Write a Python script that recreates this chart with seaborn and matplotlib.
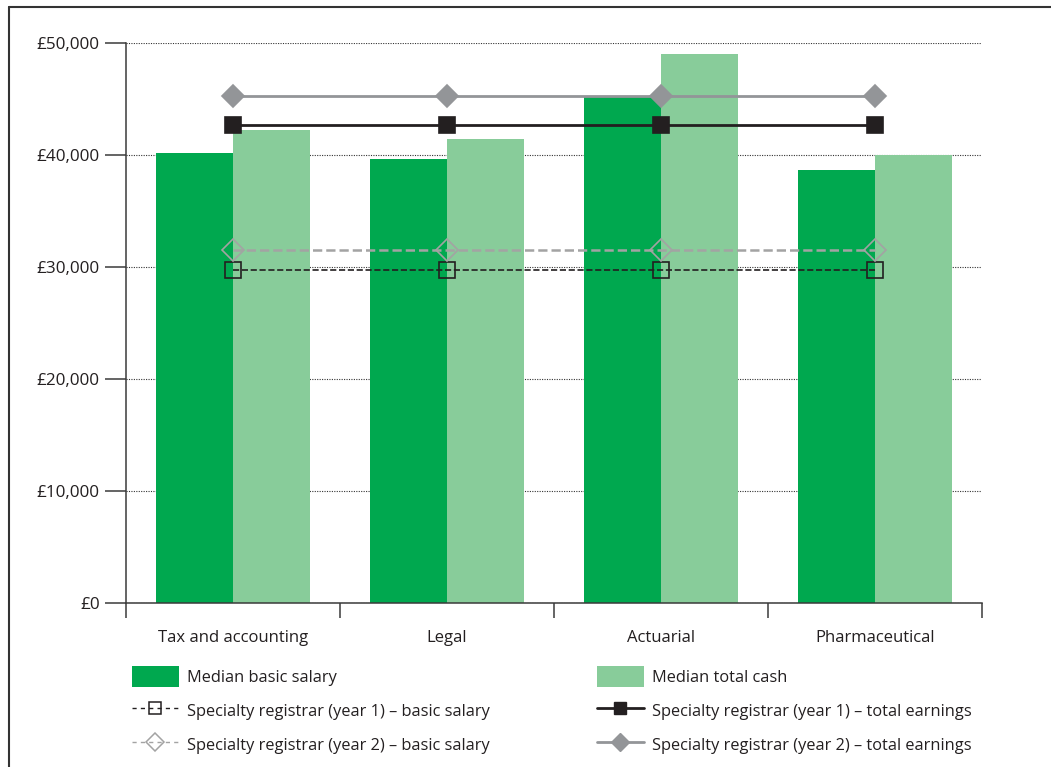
import matplotlib
matplotlib.use("Agg")
import matplotlib.pyplot as plt
from matplotlib.patches import Patch
from matplotlib.lines import Line2D
from matplotlib.ticker import FuncFormatter, FixedLocator
import pandas as pd
import seaborn as sns

categories = ["Tax and accounting", "Legal", "Actuarial", "Pharmaceutical"]
median_basic_salary = [40200, 39600, 45200, 38700]
median_total_cash = [42200, 41400, 49000, 40000]
sr_y1_basic = [29700, 29700, 29700, 29700]
sr_y2_basic = [31500, 31500, 31500, 31500]
sr_y1_total = [42650, 42650, 42650, 42650]
sr_y2_total = [45300, 45300, 45300, 45300]

bar_labels = ["Median basic salary", "Median total cash"]
line_labels = [
    "Specialty registrar (year 1) \u2013 basic salary",
    "Specialty registrar (year 2) \u2013 basic salary",
    "Specialty registrar (year 1) \u2013 total earnings",
    "Specialty registrar (year 2) \u2013 total earnings",
]

C_BASIC = "#00a84f"
C_TOTAL = "#88cc9a"
C_DARK = "#231f20"
C_GREY = "#939598"
C_GREY_DASH = "#a3a3a3"
C_AXIS = "#3a3a3a"

sns.set_theme(style="white")
plt.rcParams["font.family"] = ["Open Sans", "DejaVu Sans"]
plt.rcParams["font.size"] = 11

fig = plt.figure(figsize=(10.51, 7.67), dpi=100)
ax = fig.add_axes([126 / 1051, 1 - 603 / 767, (982 - 126) / 1051, (603 - 43) / 767])

bars = pd.DataFrame({
    "category": categories * 2,
    "value": median_basic_salary + median_total_cash,
    "series": [bar_labels[0]] * 4 + [bar_labels[1]] * 4,
})
sns.barplot(data=bars, x="category", y="value", hue="series",
            palette=[C_BASIC, C_TOTAL], width=0.72, saturation=1,
            errorbar=None, legend=False, ax=ax, zorder=2, linewidth=0)

line_specs = [
    (sr_y1_basic, C_DARK, "s", "--", "none", 11, 1.2),
    (sr_y2_basic, C_GREY_DASH, "D", "--", "none", 11, 1.8),
    (sr_y1_total, C_DARK, "s", "-", C_DARK, 11, 2.0),
    (sr_y2_total, C_GREY, "D", "-", C_GREY, 11, 2.0),
]
for vals, col, mk, ls, fc, ms, lw in line_specs:
    df = pd.DataFrame({"category": categories, "value": vals})
    sns.pointplot(data=df, x="category", y="value", color=col, markers=mk,
                  linestyles=ls, errorbar=None, ax=ax,
                  markerfacecolor=fc, markeredgecolor=col, markersize=ms,
                  markeredgewidth=1.2, linewidth=lw, zorder=4)

ax.set_xlim(-0.5, 3.5)
ax.set_ylim(0, 50000)
ax.set_yticks(range(0, 50001, 10000))
ax.yaxis.set_major_formatter(FuncFormatter(lambda v, p: f"\u00a3{int(v):,}"))
ax.set_xlabel("")
ax.set_ylabel("")

ax.set_axisbelow(True)
ax.yaxis.grid(True, linestyle=(0, (1, 1.2)), color="#333333", linewidth=0.8)
ax.xaxis.grid(False)

for side in ["top", "right"]:
    ax.spines[side].set_visible(False)
for side in ["left", "bottom"]:
    ax.spines[side].set_color(C_AXIS)
    ax.spines[side].set_linewidth(1.1)

ax.tick_params(axis="y", which="major", direction="out", length=15, width=1.1,
               color=C_AXIS, pad=4, labelsize=12.3, labelcolor="#231f20", left=True)
ax.xaxis.set_minor_locator(FixedLocator([-0.5, 0.5, 1.5, 2.5, 3.5]))
ax.tick_params(axis="x", which="minor", direction="out", length=11, width=1.1,
               color=C_AXIS, bottom=True)
ax.tick_params(axis="x", which="major", length=0, pad=19.5, labelsize=12,
               labelcolor="#231f20")

# legend, two columns placed beneath the plot
handles_left = [
    Patch(facecolor=C_BASIC, edgecolor="none"),
    Line2D([], [], color=C_DARK, ls=(0, (3, 3)), lw=1.0, marker="s", ms=8.5,
           mfc="none", mec=C_DARK, mew=1.1),
    Line2D([], [], color=C_GREY_DASH, ls=(0, (3, 3)), lw=1.0, marker="D", ms=9,
           mfc="none", mec=C_GREY_DASH, mew=1.1),
]
handles_right = [
    Patch(facecolor=C_TOTAL, edgecolor="none"),
    Line2D([], [], color=C_DARK, ls="-", lw=2.0, marker="s", ms=8.5,
           mfc=C_DARK, mec=C_DARK),
    Line2D([], [], color=C_GREY, ls="-", lw=2.0, marker="D", ms=9,
           mfc=C_GREY, mec=C_GREY),
]
leg_kw = dict(loc="upper left", frameon=False, fontsize=11.8, handlelength=2.85,
              handleheight=1.6, handletextpad=0.5, labelspacing=0.78,
              borderpad=0, borderaxespad=0, labelcolor="#231f20")
leg1 = fig.legend(handles_left, [bar_labels[0], line_labels[0], line_labels[1]],
                  bbox_to_anchor=(132 / 1051, 1 - 666 / 767), **leg_kw)
leg2 = fig.legend(handles_right, [bar_labels[1], line_labels[2], line_labels[3]],
                  bbox_to_anchor=(597 / 1051, 1 - 666 / 767), **leg_kw)

# outer frame (left and top edges)
fig.add_artist(Line2D([9 / 1051, 9 / 1051], [0, 1 - 7 / 767], color="#333333",
                      lw=1.5, transform=fig.transFigure))
fig.add_artist(Line2D([9 / 1051, 1], [1 - 7 / 767, 1 - 7 / 767], color="#333333",
                      lw=1.5, transform=fig.transFigure))

fig.savefig("out.png", dpi=100, facecolor="white")
